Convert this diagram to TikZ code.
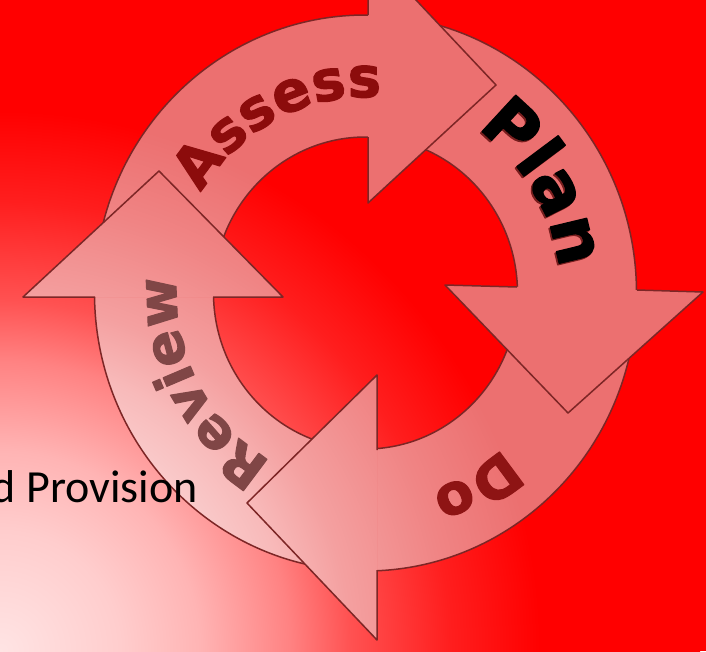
\documentclass[tikz,border=0pt]{standalone}
\usepackage{fontspec}
\usetikzlibrary{decorations.text}
\newfontfamily\heavyfont[FakeBold=2]{DejaVu Sans Bold}
\newfontfamily\calfont{Carlito}
% background radial stops
\definecolor{bg0}{RGB}{255,228,228}
\definecolor{bg1}{RGB}{255,205,205}
\definecolor{bg2}{RGB}{255,180,180}
\definecolor{bg3}{RGB}{255,130,130}
\definecolor{bg4}{RGB}{255,82,82}
\definecolor{bg5}{RGB}{255,30,30}
\definecolor{bg6}{RGB}{255,0,0}
% arrow fill stops
\definecolor{ar0}{RGB}{255,240,240}
\definecolor{ar1}{RGB}{253,228,228}
\definecolor{ar2}{RGB}{251,214,214}
\definecolor{ar3}{RGB}{248,186,186}
\definecolor{ar4}{RGB}{244,160,160}
\definecolor{ar5}{RGB}{240,132,132}
\definecolor{ar6}{RGB}{236,112,112}
\definecolor{edgecol}{RGB}{125,38,38}
\definecolor{assesscol}{RGB}{140,12,12}
\definecolor{docol}{RGB}{142,20,20}
\definecolor{reviewcol}{RGB}{128,70,70}
\definecolor{plancol}{RGB}{0,0,0}
\definecolor{planshadow}{RGB}{120,30,30}
\pgfdeclareradialshading{bgshade}{\pgfpoint{0bp}{0bp}}{color(0bp)=(bg0); color(4.29bp)=(bg1); color(7.14bp)=(bg2); color(10.36bp)=(bg3); color(12.5bp)=(bg4); color(16.07bp)=(bg5); color(19.29bp)=(bg6); color(25bp)=(bg6); color(50bp)=(bg6)}
\pgfdeclareradialshading{arrowshade}{\pgfpoint{0bp}{0bp}}{color(0bp)=(ar0); color(4.29bp)=(ar1); color(7.14bp)=(ar2); color(10.36bp)=(ar3); color(12.5bp)=(ar4); color(16.07bp)=(ar5); color(19.29bp)=(ar6); color(25bp)=(ar6); color(50bp)=(ar6)}
\begin{document}
\begin{tikzpicture}[x=1pt,y=-1pt,line join=round,
  edge/.style={draw=edgecol,line width=1.5pt},
  ringtext/.style={decorate,decoration={text along path,text align=center,text={#1}}}]
\useasboundingbox (0,0) rectangle (706,651);
\clip (0,0) rectangle (706,651);
% background
\fill[bg6] (0,0) rectangle (706,651);
\shade[shading=bgshade] (0,651) circle (700);
% ring centre and head points
\coordinate (c) at (365.5,293);
\coordinate (rvO) at (95,297);  \coordinate (rvA) at (23,297);  \coordinate (rvT) at (159,171); \coordinate (rvB) at (283,297); \coordinate (rvI) at (213,297);
\coordinate (asO) at (368,15);  \coordinate (asA) at (368,-51); \coordinate (asT) at (496,85);  \coordinate (asB) at (368,203); \coordinate (asI) at (368,137);
\coordinate (plO) at (637,290); \coordinate (plA) at (703,292); \coordinate (plT) at (568,413); \coordinate (plB) at (445,285); \coordinate (plI) at (517,287);
\coordinate (doO) at (377,570); \coordinate (doA) at (377,640); \coordinate (doT) at (247,503); \coordinate (doB) at (377,375); \coordinate (doI) at (377,450);
% ring (tails)
\begin{scope}
\clip (636.5,293) arc[start angle=0,end angle=360,x radius=271,y radius=278] -- cycle
      (517.5,293) arc[start angle=360,end angle=0,x radius=152,y radius=156] -- cycle;
\fill[ar6] (0,0) rectangle (706,651);
\shade[shading=arrowshade] (0,651) circle (700);
\end{scope}
\draw[edge] (c) ellipse [x radius=271,y radius=278];
\draw[edge] (c) ellipse [x radius=152,y radius=156];
% heads
\begin{scope}
\clip (rvA) -- (rvT) -- (rvB) -- cycle
      (asA) -- (asT) -- (asB) -- cycle
      (plA) -- (plT) -- (plB) -- cycle
      (doA) -- (doT) -- (doB) -- cycle;
\fill[ar6] (0,0) rectangle (706,651);
\shade[shading=arrowshade] (0,651) circle (700);
\end{scope}
\draw[edge] (rvO) -- (rvA) -- (rvT) -- (rvB) -- (rvI);
\draw[edge] (asO) -- (asA) -- (asT) -- (asB) -- (asI);
\draw[edge] (plO) -- (plA) -- (plT) -- (plB) -- (plI);
\draw[edge] (doO) -- (doA) -- (doT) -- (doB) -- (doI);
% curved labels
\begin{scope}[shift={(365.5,293)},yscale=1.026]
\path[ringtext={|\fontsize{56}{56}\heavyfont\color{assesscol}|Assess}]
  (183:191) arc[start angle=183,end angle=303,radius=191];
\begin{scope}[shift={(-1.5,1.5)}]
\path[ringtext={|\fontsize{68}{68}\heavyfont\color{planshadow}|Plan}]
  (268.5:195) arc[start angle=268.5,end angle=388.5,radius=195];
\end{scope}
\path[ringtext={|\fontsize{68}{68}\heavyfont\color{plancol}|Plan}]
  (268.5:195) arc[start angle=268.5,end angle=388.5,radius=195];
\path[ringtext={|\fontsize{56}{56}\heavyfont\color{docol}|Do}]
  (0:204) arc[start angle=0,end angle=120,radius=204];
\path[ringtext={|\fontsize{54}{54}\heavyfont\color{reviewcol}|Review}]
  (92:189) arc[start angle=92,end angle=212,radius=189];
\end{scope}
% side text
\node[anchor=base east,inner sep=0pt,font=\calfont\fontsize{46}{46}\selectfont] (prov) at (198,502) {d Provision};
\end{tikzpicture}
\end{document}
